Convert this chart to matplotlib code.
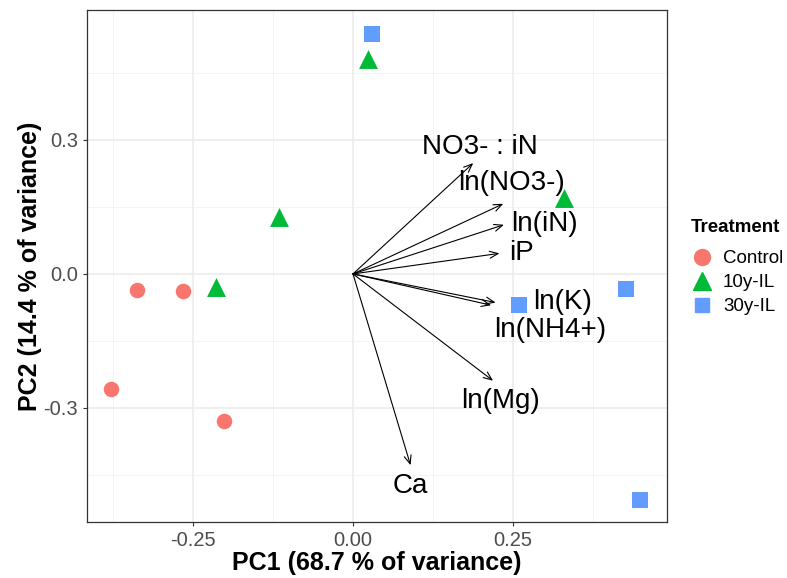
import matplotlib.pyplot as plt
from matplotlib.lines import Line2D

plt.rcParams['font.family'] = ['Liberation Sans', 'DejaVu Sans']

# PCA scores per treatment
control_x = [-0.337, -0.266, -0.378, -0.202]
control_y = [-0.036, -0.038, -0.257, -0.329]
il10_x = [0.023, -0.115, -0.214, 0.330]
il10_y = [0.481, 0.128, -0.029, 0.170]
il30_x = [0.030, 0.259, 0.427, 0.449]
il30_y = [0.537, -0.069, -0.034, -0.506]

# loading arrows and their labels
var_names = ['NO3- : iN', 'ln(NO3-)', 'ln(iN)', 'iP', 'ln(K)', 'ln(NH4+)', 'ln(Mg)', 'Ca']
arrow_x = [0.188, 0.235, 0.236, 0.229, 0.223, 0.216, 0.219, 0.090]
arrow_y = [0.248, 0.157, 0.110, 0.046, -0.064, -0.070, -0.239, -0.428]
label_x = [0.199, 0.248, 0.300, 0.263, 0.328, 0.309, 0.230, 0.090]
label_y = [0.285, 0.203, 0.112, 0.046, -0.062, -0.125, -0.284, -0.474]

fig = plt.figure(figsize=(7.87, 5.78), dpi=100)
ax = fig.add_axes([0.1105, 0.097, 0.737, 0.886])

# grid like theme_bw
for v in [-0.375, -0.125, 0.125, 0.375]:
    ax.axvline(v, color='#F2F2F2', lw=0.6, zorder=0)
for v in [-0.45, -0.15, 0.15, 0.45]:
    ax.axhline(v, color='#F2F2F2', lw=0.6, zorder=0)
for v in [-0.25, 0.0, 0.25]:
    ax.axvline(v, color='#EBEBEB', lw=1.1, zorder=0)
for v in [-0.3, 0.0, 0.3]:
    ax.axhline(v, color='#EBEBEB', lw=1.1, zorder=0)

# arrows
for i in range(len(var_names)):
    ax.annotate('', xy=(arrow_x[i], arrow_y[i]), xytext=(0, 0),
                arrowprops=dict(arrowstyle='->,head_length=0.6,head_width=0.25',
                                color='black', lw=0.8, shrinkA=0, shrinkB=0),
                zorder=2)
    ax.text(label_x[i], label_y[i], var_names[i], fontsize=20,
            ha='center', va='center', color='black', zorder=3)

ax.scatter(control_x, control_y, s=125, marker='o', color='#F8766D', lw=0, zorder=4)
ax.scatter(il10_x, il10_y, s=185, marker='^', color='#00BA38', lw=0, zorder=4)
ax.scatter(il30_x, il30_y, s=120, marker='s', color='#619CFF', lw=0, zorder=4)

ax.set_xlim(-0.416, 0.491)
ax.set_ylim(-0.555, 0.591)
ax.set_xticks([-0.25, 0.0, 0.25])
ax.set_xticklabels(['-0.25', '0.00', '0.25'])
ax.set_yticks([-0.3, 0.0, 0.3])
ax.set_yticklabels(['-0.3', '0.0', '0.3'])
ax.tick_params(labelsize=14.5, labelcolor='#4D4D4D', color='#333333', length=3, width=0.8)
for s in ax.spines.values():
    s.set_color('#333333')
    s.set_linewidth(0.9)

ax.set_xlabel('PC1 (68.7 % of variance)', fontsize=18, fontweight='bold', labelpad=1)
ax.set_ylabel('PC2 (14.4 % of variance)', fontsize=18, fontweight='bold', labelpad=1)

handles = [
    Line2D([], [], marker='o', ls='', color='#F8766D', markersize=11.5),
    Line2D([], [], marker='^', ls='', color='#00BA38', markersize=13),
    Line2D([], [], marker='s', ls='', color='#619CFF', markersize=10),
]
leg = fig.legend(handles, ['Control', '10y-IL', '30y-IL'],
                 loc='center left', bbox_to_anchor=(0.878, 0.511), frameon=False,
                 fontsize=13.5, handletextpad=0.5, labelspacing=0.37,
                 handlelength=1.2, borderpad=0, borderaxespad=0)
fig.text(691 / 787, 1 - 227 / 578, 'Treatment', fontsize=13.5, fontweight='bold',
         ha='left', va='center')

fig.savefig('out.png', dpi=100)
